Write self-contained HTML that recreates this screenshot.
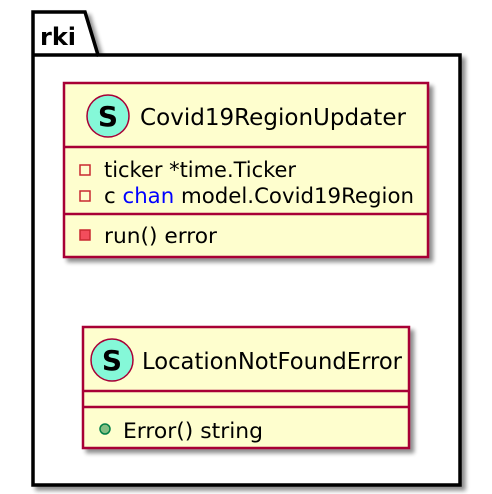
<!DOCTYPE html>
<html><head><meta charset="utf-8"><style>
html,body{margin:0;padding:0;background:#fff;}
svg{display:block;font-family:"DejaVu Sans","Liberation Sans",sans-serif;}
</style></head><body>
<svg width="492" height="494" viewBox="0 0 492 494" xmlns="http://www.w3.org/2000/svg">
<defs>
<filter id="sh" x="-10%" y="-10%" width="130%" height="130%">
<feGaussianBlur in="SourceAlpha" stdDeviation="2"/>
<feOffset dx="4" dy="4"/>
<feComponentTransfer><feFuncA type="linear" slope="0.45"/></feComponentTransfer>
<feMerge><feMergeNode/><feMergeNode in="SourceGraphic"/></feMerge>
</filter>
</defs>
<g filter="url(#sh)">
<path d="M33,12 L85,12 L98,55 L460,55 L460,485 L33,485 Z" fill="#fff" stroke="#000" stroke-width="3.5"/>
</g>
<line x1="33" y1="55" x2="98" y2="55" stroke="#000" stroke-width="3.5"/>
<text x="40" y="45" font-size="24" font-weight="bold" fill="#000">rki</text>

<g filter="url(#sh)">
<rect x="64" y="83" width="364" height="174" fill="#FEFECE" stroke="#A80036" stroke-width="2.5"/>
</g>
<line x1="64" y1="147" x2="428" y2="147" stroke="#A80036" stroke-width="2.5"/>
<line x1="64" y1="214" x2="428" y2="214" stroke="#A80036" stroke-width="2.5"/>
<circle cx="108" cy="116" r="21" fill="#85F8D8" stroke="#A80036" stroke-width="1.5"/>
<text x="108" y="126" font-size="28" font-weight="bold" text-anchor="middle" fill="#000">S</text>
<text x="140" y="125" font-size="23" fill="#000" textLength="266" lengthAdjust="spacingAndGlyphs">Covid19RegionUpdater</text>
<rect x="80" y="165" width="10" height="10" fill="none" stroke="#C82930" stroke-width="1.5"/>
<text x="104" y="177" font-size="21" fill="#000" textLength="192" lengthAdjust="spacingAndGlyphs">ticker *time.Ticker</text>
<rect x="80" y="191" width="10" height="10" fill="none" stroke="#C82930" stroke-width="1.5"/>
<text x="104" y="203" font-size="21" fill="#000" textLength="310" lengthAdjust="spacingAndGlyphs">c <tspan fill="#0000FF">chan</tspan> model.Covid19Region</text>
<rect x="80" y="230" width="10" height="10" fill="#F24D5C" stroke="#C82930" stroke-width="1.5"/>
<text x="104" y="243" font-size="21" fill="#000" textLength="113" lengthAdjust="spacingAndGlyphs">run() error</text>

<g filter="url(#sh)">
<rect x="83" y="327" width="326" height="121" fill="#FEFECE" stroke="#A80036" stroke-width="2.5"/>
</g>
<line x1="83" y1="391" x2="409" y2="391" stroke="#A80036" stroke-width="2.5"/>
<line x1="83" y1="407" x2="409" y2="407" stroke="#A80036" stroke-width="2.5"/>
<circle cx="112" cy="360" r="21" fill="#85F8D8" stroke="#A80036" stroke-width="1.5"/>
<text x="112" y="370" font-size="28" font-weight="bold" text-anchor="middle" fill="#000">S</text>
<text x="142" y="369" font-size="23" fill="#000" textLength="260" lengthAdjust="spacingAndGlyphs">LocationNotFoundError</text>
<circle cx="105" cy="429" r="5" fill="#84BE84" stroke="#038048" stroke-width="1.5"/>
<text x="123" y="438" font-size="21" fill="#000" textLength="140" lengthAdjust="spacingAndGlyphs">Error() string</text>
</svg>
</body></html>
